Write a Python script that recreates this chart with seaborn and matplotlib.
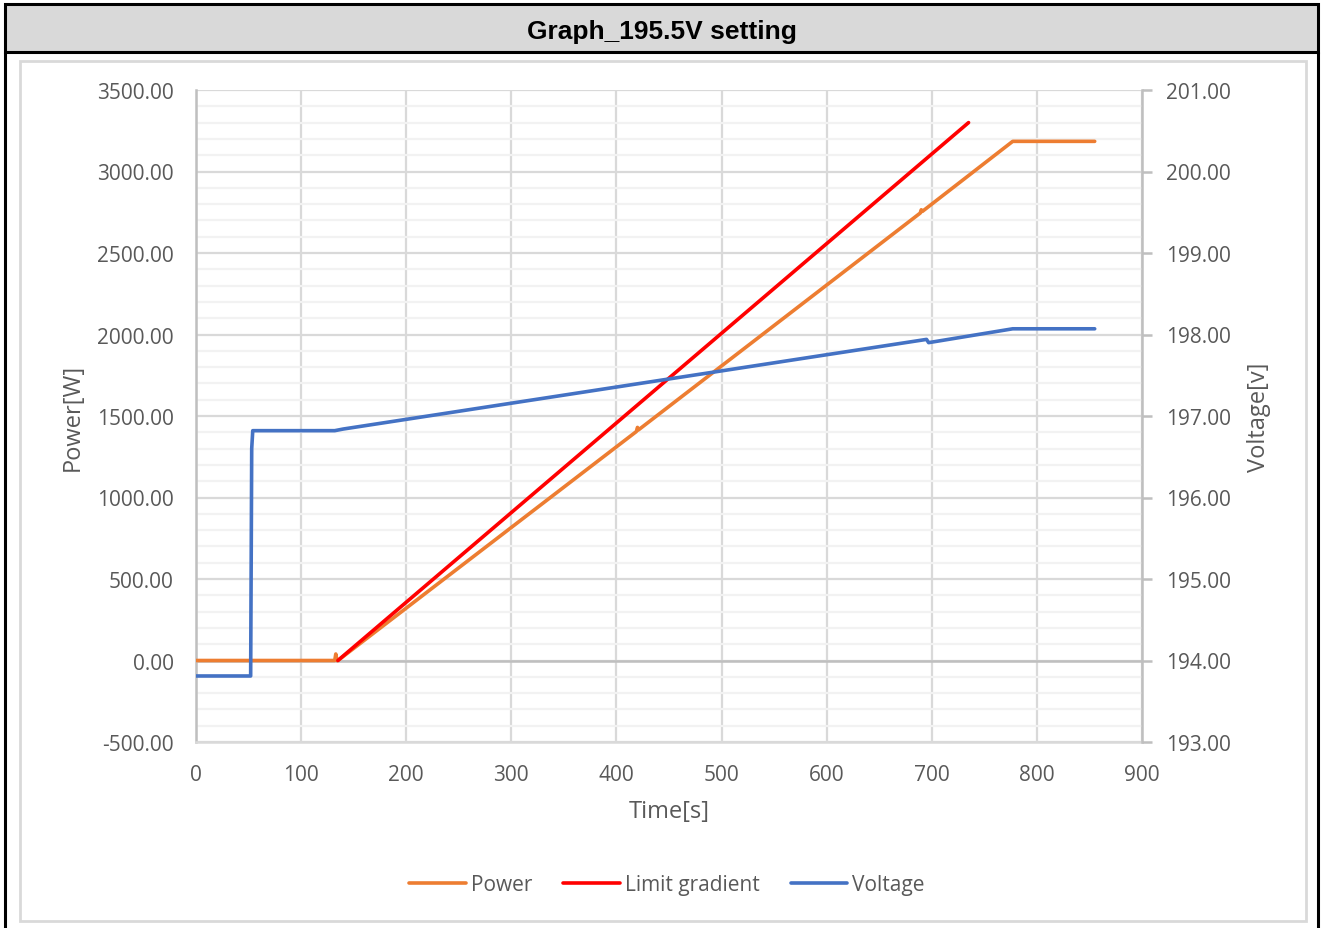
import matplotlib
matplotlib.use("Agg")
import matplotlib.pyplot as plt
from matplotlib.patches import Rectangle
from matplotlib.lines import Line2D
from matplotlib.ticker import MultipleLocator, FormatStrFormatter
import seaborn as sns

# --- measured series (polyline vertices) ---
power_t = [0, 132, 133, 134, 135, 419, 420, 421, 689, 690, 691, 777, 855]
power_w = [0, 0, 40, 0, 0, 1405, 1430, 1415, 2745, 2765, 2755, 3185, 3185]

limit_t = [135, 735]
limit_w = [0, 3300]

volt_t = [0, 52, 53, 54, 132, 140, 695, 697, 777, 855]
volt_v = [193.81, 193.81, 196.60, 196.82, 196.82, 196.84, 197.94, 197.90, 198.07, 198.07]

title_text = "Graph_195.5V setting"
series_names = ["Power", "Limit gradient", "Voltage"]
series_colors = ["#ED7D31", "#FF0000", "#4472C4"]

W, H = 1322, 929

sns.set_theme(style="white")
plt.rcParams["font.family"] = ["Open Sans", "DejaVu Sans"]

fig = plt.figure(figsize=(W / 100, H / 100), dpi=100)
fig.patch.set_facecolor("white")


def fx(px):
    return px / W


def fy(py):
    return 1 - py / H


# outer frame and title band
fig.add_artist(Rectangle((fx(5), fy(53)), fx(1318) - fx(5), fy(5) - fy(53),
                         transform=fig.transFigure, facecolor="#D9D9D9",
                         edgecolor="black", lw=2.2, zorder=0))
fig.add_artist(Line2D([fx(5), fx(5)], [fy(53), fy(935)], transform=fig.transFigure,
                      color="black", lw=2.2))
fig.add_artist(Line2D([fx(1318), fx(1318)], [fy(53), fy(935)], transform=fig.transFigure,
                      color="black", lw=2.2))
fig.add_artist(Rectangle((fx(20), fy(922)), fx(1306) - fx(20), fy(62) - fy(922),
                         transform=fig.transFigure, facecolor="none",
                         edgecolor="#D9D9D9", lw=2, zorder=0))
fig.text(fx(662), fy(32), title_text, ha="center", va="center",
         fontsize=19, fontweight="bold", family=["Liberation Sans", "DejaVu Sans"],
         color="black")

ax = fig.add_axes([fx(196), fy(743), fx(1142) - fx(196), fy(91) - fy(743)])
ax2 = ax.twinx()

ax.set_xlim(0, 900)
ax.set_ylim(-500, 3500)
ax2.set_ylim(193, 201)

ax.xaxis.set_major_locator(MultipleLocator(100))
ax.yaxis.set_major_locator(MultipleLocator(500))
ax.yaxis.set_minor_locator(MultipleLocator(100))
ax2.yaxis.set_major_locator(MultipleLocator(1))
ax.yaxis.set_major_formatter(FormatStrFormatter("%.2f"))
ax2.yaxis.set_major_formatter(FormatStrFormatter("%.2f"))

ax.grid(which="minor", axis="y", color="#F2F2F2", lw=1.6, zorder=0)
ax.grid(which="major", axis="both", color="#D9D9D9", lw=1.6, zorder=0)
ax.axhline(0, color="#BFBFBF", lw=1.8, zorder=1)
ax.set_axisbelow(True)

for a in (ax, ax2):
    for s in a.spines.values():
        s.set_visible(False)
ax.spines["left"].set_visible(True)
ax.spines["left"].set_color("#BFBFBF")
ax.spines["left"].set_linewidth(1.8)
ax.spines["bottom"].set_visible(True)
ax.spines["bottom"].set_color("#D9D9D9")
ax.spines["bottom"].set_linewidth(1.8)
ax2.spines["right"].set_visible(True)
ax2.spines["right"].set_color("#BFBFBF")
ax2.spines["right"].set_linewidth(1.8)

tick_col = "#595959"
ax.tick_params(axis="y", which="both", length=0, pad=16, labelsize=15, labelcolor=tick_col)
ax.tick_params(axis="x", length=0, pad=16, labelsize=15, labelcolor=tick_col)
ax2.tick_params(axis="y", length=7, width=1.8, color="#BFBFBF", pad=10,
                labelsize=15, labelcolor=tick_col)

sns.lineplot(x=power_t, y=power_w, ax=ax, color=series_colors[0], lw=2.6,
             estimator=None, sort=False, zorder=3)
sns.lineplot(x=limit_t, y=limit_w, ax=ax, color=series_colors[1], lw=2.6,
             estimator=None, sort=False, zorder=4)
sns.lineplot(x=volt_t, y=volt_v, ax=ax2, color=series_colors[2], lw=2.6,
             estimator=None, sort=False, zorder=3)

ax.set_xlabel("Time[s]", fontsize=17, color=tick_col, labelpad=10)
ax.set_ylabel("Power[W]", fontsize=17, color=tick_col, labelpad=9)
ax2.set_ylabel("Voltage[v]", fontsize=17, color=tick_col, labelpad=12)

handles = [Line2D([0], [0], color=c, lw=2.6) for c in series_colors]
fig.legend(handles, series_names, loc="center", bbox_to_anchor=(fx(667), fy(886)),
           ncol=3, frameon=False, fontsize=15, handlelength=2.7, handletextpad=0.25,
           columnspacing=1.5, labelcolor=tick_col)

fig.savefig("out.png", dpi=100, facecolor="white")
